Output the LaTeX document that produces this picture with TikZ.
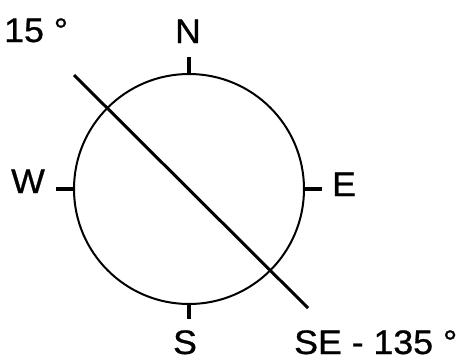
\documentclass[tikz,border=0pt]{standalone}
\usepackage{fontspec}
\setmainfont{Liberation Sans}[FakeStretch=1.05, FakeBold=0.8]
\usetikzlibrary{positioning}
\tikzset{
  dirtext/.style={font=\fontsize{34}{34}\selectfont, inner sep=0pt},
  compasstick/.style={line width=4.5pt},
}
\begin{document}
\begin{tikzpicture}[x=1pt, y=-1pt]
  \useasboundingbox (0,0) rectangle (461,360);

  % Circle
  \node[draw, circle, line width=2pt, minimum size=230pt, inner sep=0pt] (ring) at (189,189) {};

  % Ticks
  \draw[compasstick] (ring.north) -- ++(0,-16) coordinate (ntip);
  \draw[compasstick] (ring.south) -- ++(0,14) coordinate (stip);
  \draw[compasstick] (ring.west) -- ++(-17,0) coordinate (wtip);
  \draw[compasstick] (ring.east) -- ++(17,0) coordinate (etip);

  % Direction labels
  \node[dirtext, anchor=base] (nlab) at (188,43) {N};
  \node[dirtext, anchor=base] (slab) at (185,354) {S};
  \node[dirtext, anchor=base] (wlab) at (28,193) {W};
  \node[dirtext, anchor=base] (elab) at (344,196) {E};

  % Strike line
  \coordinate (nwend) at (74,75);
  \coordinate (seend) at (308,308);
  \draw[line width=3pt] (nwend) -- (seend);

  % Angle labels
  \node[dirtext, anchor=base west] (anglea) at (4,42) {15 °};
  \node[dirtext, anchor=base west] (angleb) at (294,354) {SE - 135 °};
\end{tikzpicture}
\end{document}
